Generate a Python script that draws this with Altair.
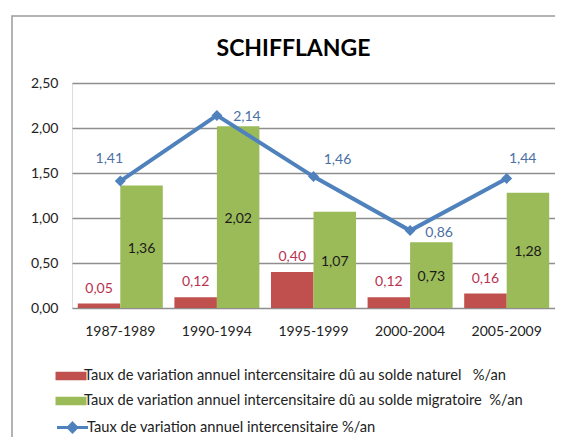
import altair as alt
import pandas as pd

periods = ["1987-1989", "1990-1994", "1995-1999", "2000-2004", "2005-2009"]
solde_naturel = [0.05, 0.12, 0.40, 0.12, 0.16]
solde_migratoire = [1.36, 2.02, 1.07, 0.73, 1.28]
taux_total = [1.41, 2.14, 1.46, 0.86, 1.44]
y_ticks = [0.0, 0.5, 1.0, 1.5, 2.0, 2.5]

lab_nat = "Taux de variation annuel intercensitaire dû au solde naturel \u00a0 %/an"
lab_mig = "Taux de variation annuel intercensitaire dû au solde migratoire \u00a0%/an"
lab_tot = "Taux de variation annuel intercensitaire %/an"

RED = "#c0504d"
GREEN = "#9bbb59"
BLUE = "#4f81bd"
FONT = "Lato"

bars_df = pd.DataFrame({
    "periode": periods * 2,
    "serie": [lab_nat] * len(periods) + [lab_mig] * len(periods),
    "valeur": solde_naturel + solde_migratoire,
})
line_df = pd.DataFrame({
    "periode": periods,
    "serie_ligne": [lab_tot] * len(periods),
    "valeur": taux_total,
})

fmt = "replace(format(datum.valeur, '.2f'), '.', ',')"

x_enc = alt.X(
    "periode:N", sort=periods,
    scale=alt.Scale(paddingInner=0.12, paddingOuter=0.06),
    axis=alt.Axis(title=None, labelAngle=0, ticks=False, domain=False,
                  labelFont=FONT, labelFontSize=14, labelColor="#222",
                  labelPadding=16),
)
y_scale = alt.Scale(domain=[0, 2.5], nice=False)
y_axis = alt.Axis(values=y_ticks, title=None, domain=False, ticks=False,
                  grid=True, gridColor="#8e8e8e", gridWidth=1.5,
                  labelExpr="replace(format(datum.value, '.2f'), '.', ',')",
                  labelFont=FONT, labelFontSize=14, labelColor="#222",
                  labelPadding=14)
xoff = alt.XOffset("serie:N", sort=[lab_nat, lab_mig])

base_bars = alt.Chart(bars_df)

bars = base_bars.mark_bar().encode(
    x=x_enc,
    xOffset=xoff,
    y=alt.Y("valeur:Q", scale=y_scale, axis=y_axis),
    color=alt.Color(
        "serie:N",
        scale=alt.Scale(domain=[lab_nat, lab_mig], range=[RED, GREEN]),
        legend=alt.Legend(
            orient="none", legendX=-9, legendY=285, direction="vertical",
            title=None, symbolType="M-2,-0.55H2V0.55H-2Z", symbolSize=240,
            symbolStrokeWidth=0, labelFont=FONT, labelFontSize=14.7,
            labelColor="#222", labelLimit=700, rowPadding=10,
            labelOffset=5, padding=0,
        ),
    ),
)

red_labels = base_bars.transform_filter(
    alt.datum.serie == lab_nat
).transform_calculate(lbl=fmt).mark_text(
    dy=-15, font=FONT, fontSize=14, color="#b8324f", baseline="middle"
).encode(x=alt.X("periode:N", sort=periods), xOffset=xoff,
         y=alt.Y("valeur:Q"), text="lbl:N")

green_labels = base_bars.transform_filter(
    alt.datum.serie == lab_mig
).transform_calculate(lbl=fmt, mid="datum.valeur / 2").mark_text(
    dy=2, font=FONT, fontSize=14, color="#1a1a1a", baseline="middle"
).encode(x=alt.X("periode:N", sort=periods), xOffset=xoff,
         y=alt.Y("mid:Q"), text="lbl:N")

base_line = alt.Chart(line_df)
line = base_line.mark_line(strokeWidth=4).encode(
    x=alt.X("periode:N", sort=periods),
    y=alt.Y("valeur:Q"),
    stroke=alt.Stroke(
        "serie_ligne:N",
        scale=alt.Scale(domain=[lab_tot], range=[BLUE]),
        legend=alt.Legend(
            orient="none", legendX=-9, legendY=335, direction="vertical",
            title=None, symbolType="M-2,0H2M0,-0.55L0.55,0L0,0.55L-0.55,0Z",
            symbolSize=240, symbolStrokeWidth=3, symbolFillColor=BLUE,
            labelFont=FONT, labelFontSize=14.7, labelColor="#222",
            labelLimit=700, labelOffset=5, padding=0,
        ),
    ),
)
points = base_line.mark_point(shape="diamond", filled=True, size=120,
                              color=BLUE, opacity=1).encode(
    x=alt.X("periode:N", sort=periods), y=alt.Y("valeur:Q"))

label_offsets = [(-11, -22), (30, 2), (24, -17), (29, 2), (16, -19)]
line_labels = []
for p, (ddx, ddy) in zip(periods, label_offsets):
    line_labels.append(
        base_line.transform_filter(alt.datum.periode == p)
        .transform_calculate(lbl=fmt)
        .mark_text(dx=ddx, dy=ddy, font=FONT, fontSize=14, color="#4a6fa5",
                   baseline="middle")
        .encode(x=alt.X("periode:N", sort=periods), y=alt.Y("valeur:Q"),
                text="lbl:N")
    )

frame = alt.Chart(alt.Data(values=[{}])).mark_rect(
    fill="white", fillOpacity=0, stroke="#9a9a9a", strokeWidth=1.5
).encode(x=alt.value(-60), y=alt.value(-67), x2=alt.value(800), y2=alt.value(800))

chart = alt.layer(
    frame, bars, red_labels, green_labels, line, points, *line_labels
).resolve_scale(
    color="independent", stroke="independent"
).properties(
    width=483, height=225,
    autosize=alt.AutoSizeParams(type="none"),
    padding={"left": 64, "top": 75, "right": 0, "bottom": 129},
    title=alt.Title("SCHIFFLANGE", anchor="middle", dx=-20, offset=-64,
                    baseline="alphabetic", font=FONT, fontSize=23,
                    fontWeight="bold", color="#000"),
).configure_view(stroke=None).configure(background="white")

chart.save("out.html", embed_options={"renderer": "svg", "actions": False})
